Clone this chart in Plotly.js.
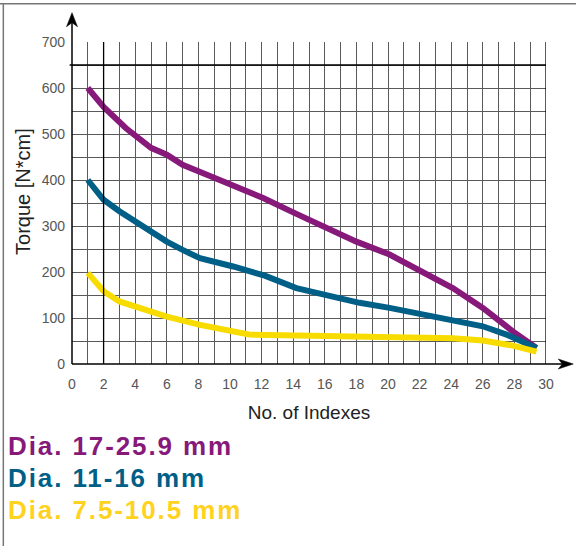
<!DOCTYPE html>
<html>
<head>
<meta charset="utf-8">
<script src="https://cdn.plot.ly/plotly-3.0.1.min.js"></script>
<style>html,body{margin:0;padding:0;background:#fff;}#chart{width:576px;height:546px;}</style>
</head>
<body>
<div id="chart"></div>
<script>
// Data
const purpleX = [1, 2, 3.4, 5, 6, 7, 9, 12.1, 14.1, 16.3, 18, 20.1, 22.2, 24.1, 26, 27.9, 29.4];
const purpleY = [600, 559, 513, 470, 455, 433, 405, 361, 328, 292, 266, 238, 201, 165, 122, 71, 35];
const blueX = [1, 2, 3, 4, 5, 6, 7, 8.1, 10.2, 12.2, 14.2, 16.3, 18.2, 20.1, 22.2, 24.1, 26, 27.5, 29.4];
const blueY = [400, 357, 332, 310, 288, 266, 248, 230, 212, 192, 165, 147, 133, 122, 107, 96, 82, 64, 35];
const yellowX = [1, 2, 3, 4, 6, 8.1, 10.2, 11.2, 14.2, 17, 20.1, 24.1, 26, 27.9, 29.4];
const yellowY = [198, 158, 136, 124, 103, 85, 69, 64, 62, 61, 60, 56, 51, 40, 27];
const seriesNames = ["Dia. 17-25.9 mm", "Dia. 11-16 mm", "Dia. 7.5-10.5 mm"];
const lineColors = ["#87197A", "#005F87", "#F8DC00"];
const textColors = ["#87197A", "#005F87", "#FFD21E"];
const xTitle = "No. of Indexes";
const yTitle = "Torque [N*cm]";

const traces = [
  {x: purpleX, y: purpleY, name: seriesNames[0], mode: 'lines', line: {color: lineColors[0], width: 6}},
  {x: blueX, y: blueY, name: seriesNames[1], mode: 'lines', line: {color: lineColors[1], width: 6}},
  {x: yellowX, y: yellowY, name: seriesNames[2], mode: 'lines', line: {color: lineColors[2], width: 6}}
];

const gridCol = '#5a5a5a';
const shapes = [
  // emphasised grid lines
  {type: 'line', xref: 'x', yref: 'y', x0: 2, x1: 2, y0: 0, y1: 700, line: {color: '#000', width: 1.3}},
  {type: 'line', xref: 'x', yref: 'y', x0: 30, x1: 30, y0: 0, y1: 700, line: {color: '#000', width: 1.3}},
  {type: 'line', xref: 'paper', yref: 'y', x0: -0.005, x1: 1, y0: 650, y1: 650, line: {color: '#000', width: 1.3}},
  // axes with arrows
  {type: 'line', xref: 'paper', yref: 'paper', x0: 0, x1: 1.045, y0: 0, y1: 0, line: {color: '#000', width: 1.5}},
  {type: 'line', xref: 'paper', yref: 'paper', x0: 0, x1: 0, y0: 0, y1: 1.06, line: {color: '#000', width: 1.5}},
  {type: 'path', xref: 'paper', yref: 'paper', xsizemode: 'pixel', ysizemode: 'pixel', xanchor: 1.0576, yanchor: 0,
   path: 'M0,0 L-15,5 L-11,0 L-15,-5 Z', fillcolor: '#000', line: {color: '#000', width: 0.5}},
  {type: 'path', xref: 'paper', yref: 'paper', xsizemode: 'pixel', ysizemode: 'pixel', xanchor: 0, yanchor: 1.091,
   path: 'M0,0 L-5.5,-14 L0,-10 L5.5,-14 Z', fillcolor: '#000', line: {color: '#000', width: 0.5}},
  // frame
  {type: 'line', xref: 'paper', yref: 'paper', x0: -0.16, x1: 1.07, y0: 1.119, y1: 1.119, line: {color: '#777', width: 1.5}},
  {type: 'line', xref: 'paper', yref: 'paper', x0: -0.1449, x1: -0.1449, y0: 1.119, y1: -0.58, line: {color: '#777', width: 1.5}}
];

const legendY = [-0.2537, -0.3531, -0.4525];
const annotations = seriesNames.map((n, i) => ({
  text: '<span style="letter-spacing:1.9px">' + n + '</span>',
  xref: 'paper', yref: 'paper', x: -0.139, y: legendY[i], xanchor: 'left', yanchor: 'middle',
  showarrow: false, font: {family: 'Liberation Sans, Arial, sans-serif', size: 26, weight: 'bold', color: textColors[i]}
}));
annotations.push({
  text: yTitle, textangle: -90, xref: 'paper', yref: 'paper', x: -0.105, y: 0.535,
  xanchor: 'center', yanchor: 'middle', showarrow: false,
  font: {family: 'Liberation Sans, Arial, sans-serif', size: 20, color: '#222'}
});

const layout = {
  width: 576, height: 546,
  margin: {l: 72, r: 30, t: 42, b: 182, pad: 0},
  paper_bgcolor: '#fff', plot_bgcolor: '#fff',
  showlegend: false,
  font: {family: 'Liberation Sans, Arial, sans-serif', color: '#444'},
  xaxis: {
    range: [0, 30], dtick: 2, tick0: 0, showgrid: true, gridcolor: gridCol, gridwidth: 1,
    minor: {dtick: 1, showgrid: true, gridcolor: gridCol, gridwidth: 1},
    zeroline: false, showline: false, ticks: '', ticklabelstandoff: 10,
    tickfont: {size: 14, color: '#555'}, fixedrange: true,
    title: {text: xTitle, font: {size: 19, color: '#222'}, standoff: 14}
  },
  yaxis: {
    range: [0, 700], dtick: 100, tick0: 0, showgrid: true, gridcolor: gridCol, gridwidth: 1,
    minor: {dtick: 50, showgrid: true, gridcolor: gridCol, gridwidth: 1},
    zeroline: false, showline: false, ticks: '', ticklabelstandoff: 6,
    tickfont: {size: 14, color: '#555'}, fixedrange: true
  },
  shapes: shapes,
  annotations: annotations
};

Plotly.newPlot('chart', traces, layout, {displayModeBar: false, staticPlot: true});
</script>
</body>
</html>
